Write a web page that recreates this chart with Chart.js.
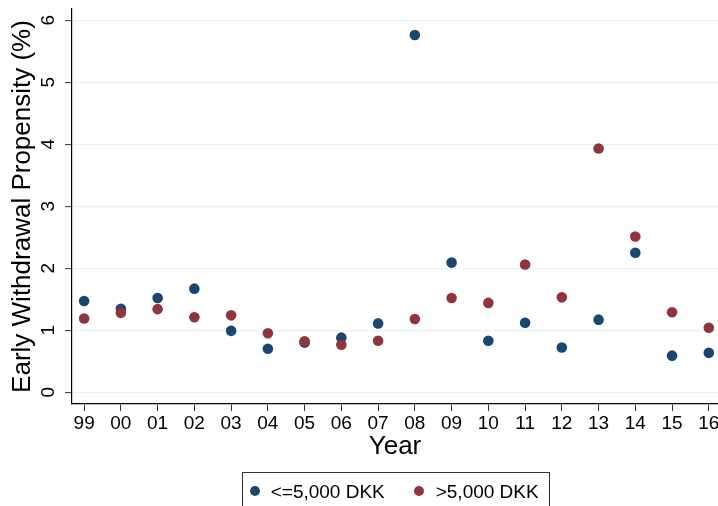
<!DOCTYPE html>
<html>
<head>
<meta charset="utf-8">
<script src="https://cdn.jsdelivr.net/npm/chart.js@4.4.1/dist/chart.umd.min.js"></script>
<style>
  html, body { margin: 0; padding: 0; background: #fff; }
  #wrap { position: relative; width: 718px; height: 506px; overflow: hidden; background: #fff; }
  #wrap canvas { position: absolute; left: 0; top: 0; }
  #legend { position: absolute; left: 242px; top: 472px; width: 308px; height: 60px;
            border: 1px solid #333; box-sizing: border-box; }
  .lg-item { position: absolute; top: 0; height: 38px; font-family: "Liberation Sans", Arial, sans-serif;
             font-size: 19px; color: #000; }
  .lg-dot { position: absolute; width: 10px; height: 10px; border-radius: 50%; top: 13px; }
  .lg-text { position: absolute; white-space: nowrap; line-height: 22px; top: 8px; }
</style>
</head>
<body>
<div id="wrap">
  <canvas id="c" width="718" height="506"></canvas>
  <div id="legend"></div>
</div>
<script>
const years = ['99','00','01','02','03','04','05','06','07','08','09','10','11','12','13','14','15','16'];
const smallLabel = '<=5,000 DKK';
const largeLabel = '>5,000 DKK';
const smallValues = [1.47, 1.345, 1.52, 1.67, 0.99, 0.70, 0.80, 0.88, 1.11, 5.76, 2.09, 0.83, 1.12, 0.72, 1.17, 2.25, 0.59, 0.635];
const largeValues = [1.19, 1.28, 1.34, 1.21, 1.24, 0.95, 0.82, 0.765, 0.83, 1.18, 1.52, 1.44, 2.06, 1.53, 3.93, 2.51, 1.29, 1.04];
const yTicks = [0, 1, 2, 3, 4, 5, 6];
const blue = '#1a476f';
const red = '#90353b';
const FONT = '"Liberation Sans", Arial, sans-serif';

const toPoints = vals => vals.map((v, i) => ({ x: i, y: v }));

const chart = new Chart(document.getElementById('c'), {
  type: 'scatter',
  data: {
    datasets: [
      { label: smallLabel, data: toPoints(smallValues), backgroundColor: blue, borderColor: blue,
        pointRadius: 5.3, pointHoverRadius: 5.3, borderWidth: 0, order: 2 },
      { label: largeLabel, data: toPoints(largeValues), backgroundColor: red, borderColor: red,
        pointRadius: 5.3, pointHoverRadius: 5.3, borderWidth: 0, order: 1 }
    ]
  },
  options: {
    responsive: false,
    animation: false,
    layout: { autoPadding: false, padding: { top: 9, right: 0, bottom: 44, left: 0 } },
    plugins: { legend: { display: false }, tooltip: { enabled: false } },
    scales: {
      x: {
        type: 'linear', min: -0.33, max: 17.25,
        afterBuildTicks: s => { s.ticks = years.map((_, i) => ({ value: i })); },
        afterFit: s => { s.height = 58; s.paddingLeft = 0; s.paddingRight = 0; },
        ticks: { callback: v => years[v], font: { family: FONT, size: 19 }, color: '#000',
                 padding: 1, maxRotation: 0, minRotation: 0, autoSkip: false },
        grid: { drawOnChartArea: false, drawTicks: true, tickLength: 7, tickColor: '#333', tickWidth: 1 },
        border: { color: '#000', width: 1.2 },
        title: { display: true, text: 'Year', font: { family: FONT, size: 26 }, color: '#000',
                 padding: { top: 0, bottom: 0 } }
      },
      y: {
        type: 'linear', min: -0.19, max: 6.18,
        afterBuildTicks: s => { s.ticks = yTicks.map(v => ({ value: v })); },
        afterFit: s => { s.width = 72; s.paddingTop = 0; s.paddingBottom = 0; },
        ticks: { callback: v => String(v), font: { family: FONT, size: 19 }, color: '#000',
                 padding: 11.4, minRotation: 90, maxRotation: 90, crossAlign: 'center', autoSkip: false },
        grid: { color: '#eaf2f3', lineWidth: 1.3, drawTicks: true, tickLength: 7, tickColor: '#333', tickWidth: 1 },
        border: { color: '#000', width: 1.2 },
        title: { display: true, text: 'Early Withdrawal Propensity (%)', font: { family: FONT, size: 26 },
                 color: '#000', padding: { top: 7.4, bottom: 0 } }
      }
    }
  }
});

// Legend built from the chart's datasets
const legend = document.getElementById('legend');
const dotLeft = [7, 171];
const textLeft = [27.7, 192.7];
chart.data.datasets.forEach((ds, i) => {
  const item = document.createElement('div');
  item.className = 'lg-item';
  const dot = document.createElement('span');
  dot.className = 'lg-dot';
  dot.style.left = dotLeft[i] + 'px';
  dot.style.background = ds.backgroundColor;
  const txt = document.createElement('span');
  txt.className = 'lg-text';
  txt.style.left = textLeft[i] + 'px';
  txt.textContent = ds.label;
  item.appendChild(dot);
  item.appendChild(txt);
  legend.appendChild(item);
});
</script>
</body>
</html>
